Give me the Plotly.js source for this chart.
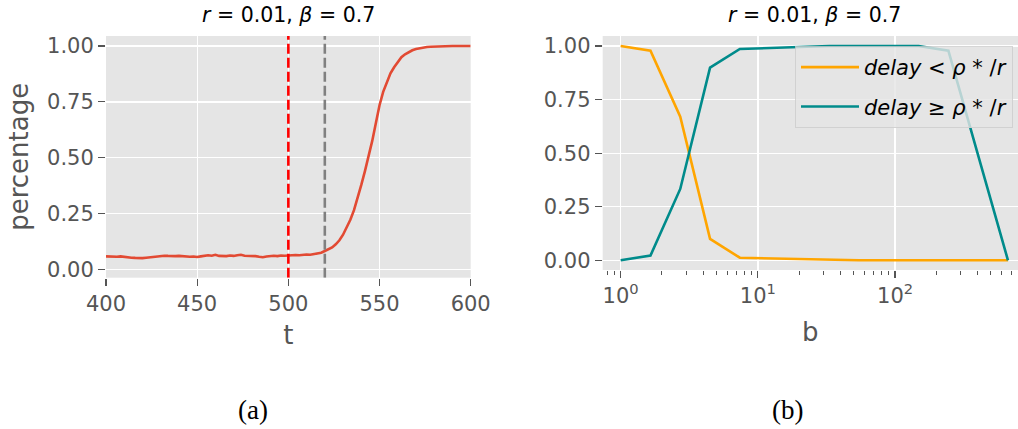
<!DOCTYPE html>
<html>
<head>
<meta charset="utf-8">
<script src="https://cdn.plot.ly/plotly-3.0.1.min.js"></script>
<style>html,body{margin:0;padding:0;background:#fff;}#chart{width:1018px;height:429px;}</style>
</head>
<body>
<div id="chart"></div>
<script>
// ---- Panel (a): fraction over time ----
const tValues = [400,402,404,406,408,410,412,414,416,418,420,422,424,426,428,430,432,434,436,438,
  440,442,444,446,448,450,452,454,456,458,460,462,464,466,468,470,472,474,476,478,
  480,482,484,486,488,490,492,494,496,498,500,502,504,506,508,510,512,514,516,518,
  520,522,524,526,528,530,532,534,536,538,540,542,544,546,548,550,552,554,556,558,
  560,562,564,566,568,570,572,574,576,578,580,582,584,586,588,590,592,594,596,598,600];
const percentage = [0.058,0.057,0.059,0.056,0.058,0.055,0.054,0.052,0.051,0.049,0.050,0.052,0.054,0.055,0.057,0.059,0.061,0.060,0.058,0.059,
  0.060,0.058,0.057,0.056,0.057,0.055,0.058,0.062,0.063,0.061,0.065,0.060,0.058,0.059,0.062,0.060,0.063,0.065,0.061,0.060,
  0.062,0.059,0.056,0.054,0.057,0.060,0.061,0.059,0.062,0.061,0.063,0.062,0.064,0.063,0.065,0.066,0.065,0.067,0.070,0.074,
  0.082,0.090,0.098,0.112,0.130,0.155,0.185,0.222,0.265,0.318,0.378,0.440,0.505,0.575,0.655,0.735,0.795,0.840,0.878,0.905,
  0.930,0.950,0.963,0.973,0.981,0.987,0.991,0.994,0.996,0.997,0.998,0.999,0.999,0.999,1.000,1.000,1.000,1.000,1.000,1.000,1.000];
const redLineT = 500;
const grayLineT = 520;
const xTicksA = [400,450,500,550,600];
const yTicks = [0,0.25,0.5,0.75,1.0];

// ---- Panel (b): fractions vs b ----
const bValues = [1.0,1.649,2.718,4.482,7.389,12.18,20.09,33.12,54.60,90.02,148.4,244.7,403.4,665.1];
const delayBelow = [1.0,0.978,0.670,0.100,0.012,0.009,0.005,0.0,0.0,0.0,0.0,0.0,0.0,0.0];
const delayAbove = [0.0,0.022,0.333,0.899,0.986,0.991,0.995,1.0,1.0,1.0,1.0,0.978,0.49,0.0];
const nameBelow = '<i>delay</i> &lt; <i>ρ</i> * /<i>r</i>';
const nameAbove = '<i>delay</i> ≥ <i>ρ</i> * /<i>r</i>';
const xTickValsB = [1,10,100];
const xTickTextB = ['10<sup>0</sup>','10<sup>1</sup>','10<sup>2</sup>'];
const xMinorB = [0.8,0.9,2,3,4,5,6,7,8,9,20,30,40,50,60,70,80,90,200,300,400,500,600,700,800];

const panelTitle = '<i>r</i> = 0.01, <i>β</i> = 0.7';
const captions = ['(a)','(b)'];

const W = 1018, H = 429;
const px = v => v / W, py = v => 1 - v / H;

const tickFont = {family:'DejaVu Sans, sans-serif', size:21, color:'#555555'};
const labelFont = {family:'DejaVu Sans, sans-serif', size:26, color:'#555555'};

const traces = [
  {x:tValues, y:percentage, type:'scatter', mode:'lines', line:{color:'#E24A33', width:2.6}, xaxis:'x', yaxis:'y', showlegend:false},
  {x:[redLineT, redLineT], y:[-0.0376, 1.045], type:'scatter', mode:'lines', line:{color:'#FF0000', width:2.6, dash:'10px,4px'}, xaxis:'x', yaxis:'y', showlegend:false},
  {x:[grayLineT, grayLineT], y:[-0.0376, 1.045], type:'scatter', mode:'lines', line:{color:'#808080', width:2.6, dash:'10px,4px'}, xaxis:'x', yaxis:'y', showlegend:false},
  {x:bValues, y:delayBelow, type:'scatter', mode:'lines', name:nameBelow, legendgroup:'g1', line:{color:'#FFA500', width:2.6}, xaxis:'x2', yaxis:'y2'},
  {x:bValues, y:delayAbove, type:'scatter', mode:'lines', name:nameAbove, legendgroup:'g2', line:{color:'#008B8B', width:2.6}, xaxis:'x2', yaxis:'y2'}
];

const commonAxis = {
  showgrid:true, gridcolor:'#FFFFFF', gridwidth:1.3, zeroline:false, showline:false,
  ticks:'outside', ticklen:7, tickwidth:1.2, tickcolor:'#555555', tickfont:tickFont
};

const layout = {
  width:W, height:H,
  margin:{l:0, r:0, t:0, b:0},
  paper_bgcolor:'#FFFFFF', plot_bgcolor:'#E5E5E5',
  font:{family:'DejaVu Sans, sans-serif', color:'#555555'},
  xaxis: Object.assign({}, commonAxis, {
    domain:[px(106), px(470.7)], range:[400,600], tickmode:'array', tickvals:xTicksA,
    anchor:'y', title:{text:'t', font:labelFont, standoff:10}
  }),
  yaxis: Object.assign({}, commonAxis, {
    domain:[py(277.7), py(36)], range:[-0.0376,1.045], tickmode:'array', tickvals:yTicks, tickformat:'.2f',
    anchor:'x', title:{text:'percentage', font:labelFont, standoff:10}
  }),
  xaxis2: Object.assign({}, commonAxis, {
    type:'log', domain:[px(602.7), 1], range:[-0.131, 2.896], tickmode:'array',
    tickvals:xTickValsB, ticktext:xTickTextB, anchor:'y2',
    minor:{tickmode:'array', tickvals:xMinorB, ticks:'outside', ticklen:3.5, tickwidth:1, tickcolor:'#555555', showgrid:false},
    title:{text:'b', font:labelFont, standoff:15}
  }),
  yaxis2: Object.assign({}, commonAxis, {
    domain:[py(270), py(36)], range:[-0.0453,1.0467], tickmode:'array', tickvals:yTicks, tickformat:'.2f',
    anchor:'x2'
  }),
  showlegend:true,
  legend:{
    x:px(795), y:py(46), xanchor:'left', yanchor:'top',
    bgcolor:'rgba(229,229,229,0.8)', bordercolor:'rgba(204,204,204,0.8)', borderwidth:1,
    font:{family:'DejaVu Sans, sans-serif', size:21, color:'#000000'},
    traceorder:'grouped', tracegroupgap:9, itemwidth:58
  },
  annotations:[
    {text:panelTitle, xref:'paper', yref:'paper', x:px(288.4), y:py(15), xanchor:'center', yanchor:'middle', showarrow:false,
     font:{family:'DejaVu Sans, sans-serif', size:20.5, color:'#000000'}},
    {text:panelTitle, xref:'paper', yref:'paper', x:px(814), y:py(15), xanchor:'center', yanchor:'middle', showarrow:false,
     font:{family:'DejaVu Sans, sans-serif', size:20.5, color:'#000000'}},
    {text:captions[0], xref:'paper', yref:'paper', x:px(253), y:py(410), xanchor:'center', yanchor:'middle', showarrow:false,
     font:{family:'Liberation Serif, DejaVu Serif, serif', size:27, color:'#000000'}},
    {text:captions[1], xref:'paper', yref:'paper', x:px(787.5), y:py(410), xanchor:'center', yanchor:'middle', showarrow:false,
     font:{family:'Liberation Serif, DejaVu Serif, serif', size:27, color:'#000000'}}
  ]
};

Plotly.newPlot('chart', traces, layout, {displayModeBar:false, staticPlot:true});
</script>
</body>
</html>
